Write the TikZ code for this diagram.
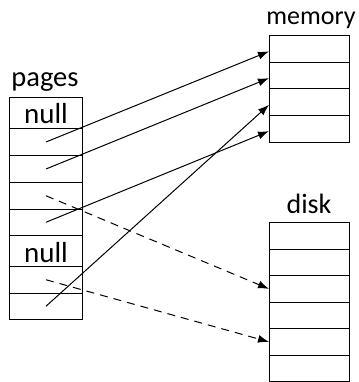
\documentclass[tikz,border=0pt]{standalone}
\usepackage{fontspec}
\setmainfont{Carlito}
\usetikzlibrary{arrows.meta}
\begin{document}
\begin{tikzpicture}[x=1pt,y=-1pt,
  cellp/.style={draw,line width=1pt,minimum width=73pt,inner sep=0pt,anchor=north west},
  cellm/.style={draw,line width=1pt,minimum width=80pt,minimum height=26.75pt,inner sep=0pt,anchor=north west},
  lbl/.style={inner sep=0pt,anchor=base},
  ptr/.style={line width=1pt,-{Latex[length=11pt,width=8pt]}},
  dptr/.style={ptr,dash pattern=on 8pt off 6pt}]
\useasboundingbox (0,0) rectangle (358,382);
% pages
\node[lbl,font=\fontsize{28.5}{28.5}\selectfont] (lp) at (45,87) {pages};
\foreach \i/\t/\h in {1/97/31,2/128/27,3/155/27,4/182/26.5,5/208.5/26.5,6/235/31,7/266/26.5,8/292.5/26.5}{
  \node[cellp,minimum height=\h pt] (p\i) at (9,\t) {};
}
\node[lbl,font=\fontsize{29}{29}\selectfont] (n1) at ([yshift=5pt]p1.south) {null};
\node[lbl,font=\fontsize{29}{29}\selectfont] (n6) at ([yshift=5pt]p6.south) {null};
% memory
\node[lbl,font=\fontsize{26}{26}\selectfont] (lm) at (311,25) {memory};
\foreach \i in {1,...,4}{
  \node[cellm] (m\i) at (269,{35+(\i-1)*26.75}) {};
}
% disk
\node[lbl,font=\fontsize{28}{28}\selectfont] (ld) at (309,213) {disk};
\foreach \i in {1,...,6}{
  \node[cellm] (d\i) at (269,{222+(\i-1)*26.5}) {};
}
% pointers
\draw[ptr] (p2.center) -- ([yshift=-2.5pt]m1.west);
\draw[ptr] (p3.center) -- ([yshift=-2.5pt]m2.west);
\draw[ptr] (p5.center) -- ([yshift=-2pt]m4.west);
\draw[ptr] (p8.center) -- ([yshift=-2.5pt]m3.west);
\draw[dptr] (p4.center) -- (d3.west);
\draw[dptr] (p7.center) -- (d5.west);
\end{tikzpicture}
\end{document}
